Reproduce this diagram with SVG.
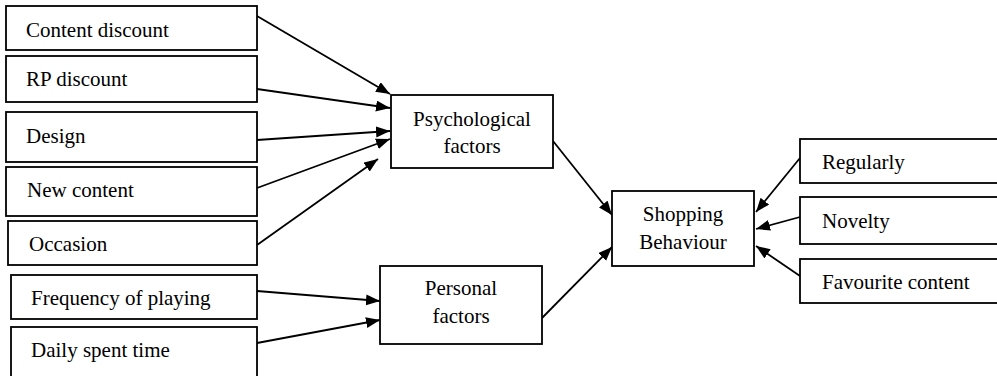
<svg xmlns="http://www.w3.org/2000/svg" width="997" height="376" viewBox="0 0 997 376">
<style>
.box{fill:#fff;stroke:#000;stroke-width:1.8}
.t{font-family:"Liberation Serif","Times New Roman",serif;font-size:21px;fill:#000}
.c{text-anchor:middle}
.ln{stroke:#000;stroke-width:1.8;fill:none;marker-end:url(#ah)}
</style>
<defs>
<marker id="ah" markerUnits="userSpaceOnUse" markerWidth="16" markerHeight="12" refX="14" refY="5.5" orient="auto">
<path d="M0,0 L14,5.5 L0,11 z" fill="#000"/>
</marker>
</defs>
<rect width="997" height="376" fill="#fff"/>
<g id="connectors">
<line class="ln" x1="257" y1="16" x2="390" y2="94"/>
<line class="ln" x1="257" y1="89" x2="390" y2="108"/>
<line class="ln" x1="257" y1="140" x2="390" y2="131"/>
<line class="ln" x1="257" y1="188" x2="390" y2="139"/>
<line class="ln" x1="257" y1="245" x2="378" y2="159"/>
<line class="ln" x1="257" y1="291" x2="380" y2="301"/>
<line class="ln" x1="257" y1="343" x2="380" y2="320"/>
<line class="ln" x1="553" y1="141" x2="612" y2="215"/>
<line class="ln" x1="542" y1="318" x2="612" y2="247"/>
<line class="ln" x1="800" y1="158" x2="756" y2="212"/>
<line class="ln" x1="800" y1="217" x2="756" y2="229"/>
<line class="ln" x1="800" y1="276" x2="756" y2="246"/>
</g>
<g id="content-discount"><rect class="box" x="6" y="6" width="251" height="44"/><text class="t" x="26" y="37">Content discount</text></g>
<g id="rp-discount"><rect class="box" x="6" y="56" width="251" height="46"/><text class="t" x="26" y="86">RP discount</text></g>
<g id="design"><rect class="box" x="6" y="112" width="251" height="50"/><text class="t" x="26" y="143">Design</text></g>
<g id="new-content"><rect class="box" x="6" y="167" width="251" height="49"/><text class="t" x="27" y="197">New content</text></g>
<g id="occasion"><rect class="box" x="8" y="221" width="249" height="44"/><text class="t" x="29" y="251">Occasion</text></g>
<g id="frequency"><rect class="box" x="11" y="275" width="246" height="44"/><text class="t" x="31" y="305">Frequency of playing</text></g>
<g id="daily"><rect class="box" x="11" y="327" width="246" height="55"/><text class="t" x="31" y="357">Daily spent time</text></g>
<g id="psychological"><rect class="box" x="391" y="95" width="162" height="73"/><text class="t c" x="472" y="126">Psychological</text><text class="t c" x="472" y="153">factors</text></g>
<g id="personal"><rect class="box" x="380" y="266" width="162" height="78"/><text class="t c" x="461" y="295">Personal</text><text class="t c" x="461" y="323">factors</text></g>
<g id="shopping"><rect class="box" x="612" y="191" width="142" height="75"/><text class="t c" x="683" y="221">Shopping</text><text class="t c" x="683" y="249">Behaviour</text></g>
<g id="regularly"><rect class="box" x="800" y="139" width="205" height="44"/><text class="t" x="822" y="169">Regularly</text></g>
<g id="novelty"><rect class="box" x="800" y="197" width="205" height="47"/><text class="t" x="822" y="228">Novelty</text></g>
<g id="favourite"><rect class="box" x="800" y="259" width="205" height="44"/><text class="t" x="822" y="289">Favourite content</text></g>
</svg>
